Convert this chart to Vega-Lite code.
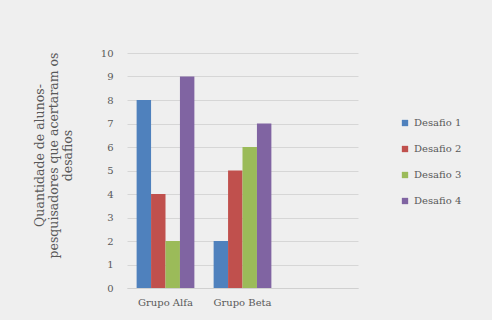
{
  "$schema": "https://vega.github.io/schema/vega-lite/v6.json",
  "width": 231,
  "height": 235,
  "autosize": {"type": "none"},
  "padding": {"left": 127, "top": 53, "right": 134, "bottom": 32},
  "background": "#efefef",
  "data": {
    "values": [
      {"grupo": "Grupo Alfa", "desafio": "Desafio 1", "valor": 8},
      {"grupo": "Grupo Alfa", "desafio": "Desafio 2", "valor": 4},
      {"grupo": "Grupo Alfa", "desafio": "Desafio 3", "valor": 2},
      {"grupo": "Grupo Alfa", "desafio": "Desafio 4", "valor": 9},
      {"grupo": "Grupo Beta", "desafio": "Desafio 1", "valor": 2},
      {"grupo": "Grupo Beta", "desafio": "Desafio 2", "valor": 5},
      {"grupo": "Grupo Beta", "desafio": "Desafio 3", "valor": 6},
      {"grupo": "Grupo Beta", "desafio": "Desafio 4", "valor": 7}
    ]
  },
  "mark": {"type": "bar"},
  "encoding": {
    "x": {
      "field": "grupo",
      "type": "nominal",
      "scale": {"domain": ["Grupo Alfa", "Grupo Beta", "_"], "paddingInner": 0.25, "paddingOuter": 0.125},
      "axis": {
        "title": null,
        "labelAngle": 0,
        "labelExpr": "datum.value === '_' ? '' : datum.value",
        "ticks": false,
        "domainColor": "#d0d0d0",
        "labelPadding": 9
      }
    },
    "xOffset": {"field": "desafio", "type": "nominal", "scale": {"paddingInner": 0}},
    "y": {
      "field": "valor",
      "type": "quantitative",
      "scale": {"domain": [0, 10]},
      "axis": {
        "title": ["Quantidade de alunos-", "pesquisadores que acertaram os", "desafios"],
        "titleFontSize": 12.5,
        "titleFontWeight": "normal",
        "titleColor": "#595959",
        "titlePadding": 26,
        "titleLineHeight": 14,
        "titleY": 102,
        "values": [0,1,2,3,4,5,6,7,8,9,10],
        "domain": false,
        "ticks": false,
        "gridColor": "#d6d6d6",
        "labelPadding": 14
      }
    },
    "color": {
      "field": "desafio",
      "type": "nominal",
      "scale": {"range": ["#4F81BD", "#C0504D", "#9BBB59", "#8064A2"]},
      "legend": {
        "title": null,
        "orient": "none",
        "legendX": 273,
        "legendY": 65,
        "symbolType": "square",
        "symbolSize": 40,
        "rowPadding": 16
      }
    }
  },
  "config": {
    "font": "DejaVu Serif",
    "view": {"stroke": null},
    "axis": {"labelFont": "DejaVu Serif", "labelFontSize": 10, "labelColor": "#595959", "titleFont": "DejaVu Serif"},
    "legend": {"labelFont": "DejaVu Serif", "labelFontSize": 10, "labelColor": "#595959"}
  }
}
